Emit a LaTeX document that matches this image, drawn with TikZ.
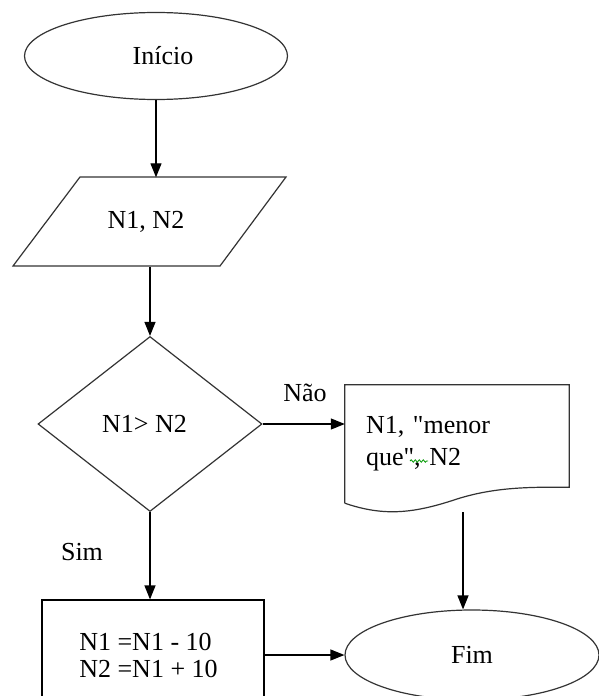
\documentclass[tikz,border=0pt]{standalone}
\usepackage{fontspec}
\setmainfont{Liberation Serif}[Ligatures=TeXOff]
\usetikzlibrary{shapes.geometric,arrows.meta,decorations.pathmorphing}

\tikzset{
  box/.style={draw=black!80, line width=1.2pt, inner sep=0pt, font=\fontsize{26}{27}\selectfont},
  flow/.style={line width=1.2pt, -{Triangle[width=11pt,length=14pt]}},
  lbl/.style={inner sep=0pt, font=\fontsize{26}{27}\selectfont}
}

\begin{document}
\begin{tikzpicture}[x=1pt,y=-1pt]
\useasboundingbox[fill=white] (0,0) rectangle (598,696);
\node[box, ellipse, minimum width=263pt, minimum height=87pt] at (156,56) (ini) {\hspace*{14pt}Início};
\node[lbl, minimum width=140pt, minimum height=89pt] at (146,222) (ent) {N1, N2};
\node[box, diamond, minimum width=224pt, minimum height=175pt] at (150,424) (dec) {N1> N2\hspace*{11pt}};
\node[inner sep=0pt, minimum width=224pt, minimum height=118pt, text width=182pt, align=left,
      font=\fontsize{26}{32}\selectfont] at (457,444) (doc) {N1, "menor\\que", N2};
\node[box, draw=black, minimum width=222pt, minimum height=110pt, align=left] at (153,655) (calc)
      {N1 =N1 - 10\\N2 =N1 + 10\hspace*{9pt}};
\node[box, ellipse, minimum width=254pt, minimum height=90pt] at (472,655) (fim) {Fim};
\node[lbl] at (305,393) (nao) {Não};
\node[lbl] at (82,552) (sim) {Sim};
\coordinate (docbot) at (463,512);
\draw[draw=black!80, line width=1.2pt] (13,266) -- (80,177) -- (286,177) -- (220,266) -- cycle;
\draw[draw=black!80, line width=1.2pt] (doc.south west) -- (doc.north west) -- (doc.north east)
  -- ([yshift=16pt]doc.south east) .. controls (530,487) and (495,487) .. (457,499)
  .. controls (415,513) and (385,517) .. (doc.south west);
\draw[green!60!black, line width=0.8pt, decorate, decoration={snake, amplitude=1.2pt, segment length=4pt}]
  (410,461) -- (428,461);
\draw[flow] (ini.south) -- (ini.south |- ent.north);
\draw[flow] (dec.north |- ent.south) -- (dec.north);
\draw[flow] (dec.east) -- (dec.east -| doc.west);
\draw[flow] (dec.south) -- (dec.south |- calc.north);
\draw[flow] (docbot) -- (docbot |- fim.north);
\draw[flow] (calc) -- (fim);
\end{tikzpicture}
\end{document}
